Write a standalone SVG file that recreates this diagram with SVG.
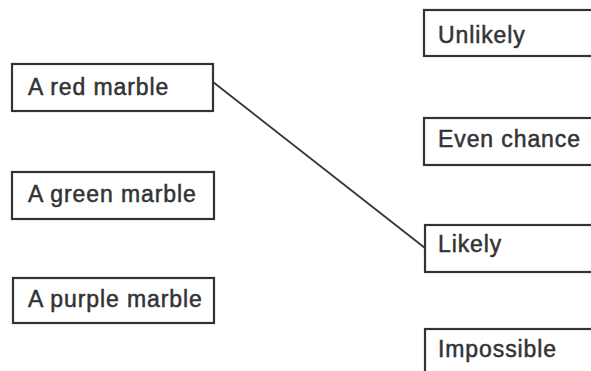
<svg xmlns="http://www.w3.org/2000/svg" width="591" height="371" viewBox="0 0 591 371">
<style>
.box{fill:#fff;stroke:#333;stroke-width:2.2}
.lbl{font-family:"Liberation Sans",Arial,sans-serif;font-size:23px;fill:#333;stroke:#333;stroke-width:0.5;letter-spacing:0.9px}
.conn{stroke:#333;stroke-width:1.8;fill:none}
</style>
<rect width="591" height="371" fill="#fff"/>
<g id="red"><rect class="box" x="12" y="64" width="201" height="47"/><text class="lbl" x="28" y="95">A red marble</text></g>
<g id="green"><rect class="box" x="12" y="172" width="202" height="47"/><text class="lbl" x="28" y="202">A green marble</text></g>
<g id="purple"><rect class="box" x="13" y="278" width="201" height="45"/><text class="lbl" x="28" y="307">A purple marble</text></g>
<g id="unlikely"><rect class="box" x="424" y="10" width="180" height="46"/><text class="lbl" x="438" y="43">Unlikely</text></g>
<g id="even"><rect class="box" x="424" y="118" width="180" height="47"/><text class="lbl" x="438" y="147">Even chance</text></g>
<g id="likely"><rect class="box" x="425" y="225" width="180" height="47"/><text class="lbl" x="438" y="252">Likely</text></g>
<g id="impossible"><rect class="box" x="425" y="329" width="180" height="60"/><text class="lbl" x="438" y="357">Impossible</text></g>
<g id="connectors"><line class="conn" x1="213" y1="82" x2="425" y2="248"/></g>
</svg>
